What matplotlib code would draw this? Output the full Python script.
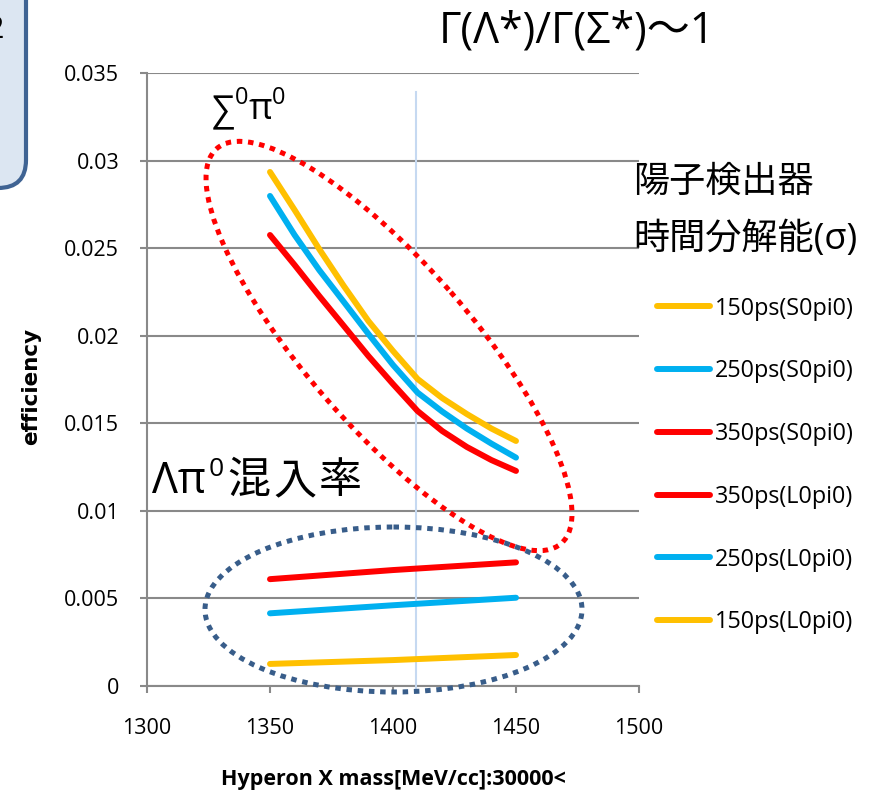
import numpy as np
import matplotlib
matplotlib.use('Agg')
import matplotlib.pyplot as plt
from matplotlib.patches import Ellipse, FancyBboxPatch
from matplotlib.transforms import Affine2D

plt.rcParams['font.family'] = ['Open Sans', 'Noto Sans CJK JP', 'DejaVu Sans']

W, H = 877, 793

# hyperon mass [MeV/cc]
mass = [1350, 1360, 1370, 1380, 1390, 1400, 1410, 1420, 1430, 1440, 1450]
s0_150 = [0.02935, 0.02718, 0.02495, 0.02284, 0.02084, 0.01913, 0.01753, 0.01644, 0.01553, 0.0147, 0.01399]
s0_250 = [0.02798, 0.02575, 0.02375, 0.02193, 0.02010, 0.01833, 0.01675, 0.01567, 0.0147, 0.01384, 0.01304]
s0_350 = [0.02575, 0.02404, 0.02227, 0.02056, 0.01884, 0.01724, 0.0157, 0.01456, 0.01365, 0.0129, 0.01228]

mass_l = [1350, 1400, 1450]
l0_350 = [0.0061, 0.00662, 0.00706]
l0_250 = [0.00415, 0.00461, 0.00504]
l0_150 = [0.00126, 0.00148, 0.00177]

yellow = '#FFC000'
blue = '#00B0F0'
red = '#FF0000'

fig = plt.figure(figsize=(W/100, H/100), dpi=100)
ax = fig.add_axes([147/W, 1-686/H, 492/W, 613/H])

# pixel coordinates of the image (y downwards)
pix = Affine2D().scale(1/W, -1/H).translate(0, 1) + fig.transFigure

lw = 4.3
ax.plot(mass, s0_150, color=yellow, lw=lw, solid_capstyle='round', label='150ps(S0pi0)', zorder=5)
ax.plot(mass, s0_250, color=blue, lw=lw, solid_capstyle='round', label='250ps(S0pi0)', zorder=5)
ax.plot(mass, s0_350, color=red, lw=lw, solid_capstyle='round', label='350ps(S0pi0)', zorder=5)
ax.plot(mass_l, l0_350, color=red, lw=lw, solid_capstyle='round', label='350ps(L0pi0)', zorder=5)
ax.plot(mass_l, l0_250, color=blue, lw=lw, solid_capstyle='round', label='250ps(L0pi0)', zorder=5)
ax.plot(mass_l, l0_150, color=yellow, lw=lw, solid_capstyle='round', label='150ps(L0pi0)', zorder=5)

ax.set_xlim(1300, 1500)
ax.set_ylim(0, 0.035)
ax.set_xticks([1300, 1350, 1400, 1450, 1500])
ax.set_yticks(np.arange(0, 0.0351, 0.005))
ax.set_yticklabels(['0', '0.005', '0.01', '0.015', '0.02', '0.025', '0.03', '0.035'])
ax.grid(axis='y', color='#898989', lw=1.5)
ax.set_axisbelow(True)
for s in ['top', 'right']:
    ax.spines[s].set_visible(False)
for s in ['left', 'bottom']:
    ax.spines[s].set_color('#898989')
    ax.spines[s].set_linewidth(1.5)
ax.tick_params(axis='both', colors='#898989', labelcolor='black', width=1.5, length=5,
               labelsize=15.5)
ax.tick_params(axis='y', pad=15)
ax.tick_params(axis='x', pad=18)

ax.set_xlabel('Hyperon X mass[MeV/cc]:30000<', fontsize=15.5, fontweight='bold', labelpad=22)
fig.text(31/W, 1-386/H, 'efficiency', rotation=90, fontsize=15.5, fontweight='bold',
         family='DejaVu Sans', ha='center', va='center')

# vertical marker line
ax.axvline(1409.5, ymin=-0.01, ymax=0.969, color='#C6D9F1', lw=1.5, clip_on=False, zorder=3)

# dotted ellipses
e1 = Ellipse((389, 346), 524, 164, angle=48.9, transform=pix, fill=False,
             edgecolor=red, lw=3.6, linestyle=(0, (1.1, 1.15)), clip_on=False, zorder=4)
e2 = Ellipse((393.5, 609.5), 377, 165, angle=0, transform=pix, fill=False,
             edgecolor='#385D8A', lw=3.6, linestyle=(0, (1.1, 1.15)), clip_on=False, zorder=4)
ax.add_patch(e1)
ax.add_patch(e2)

# legend
ax.legend(loc='upper left', bbox_to_anchor=(645/W, 1-285/H), bbox_transform=fig.transFigure,
          frameon=False, fontsize=16.8, handlelength=2.3, handletextpad=0.2,
          labelspacing=1.66, borderpad=0)

# annotations
fig.text(577/W, 1-31/H, 'Γ(Λ*)/Γ(Σ*)〜1', fontsize=31, ha='center', va='center')
fig.text(633/W, 1-183/H, '陽子検出器', fontsize=26, ha='left', va='center')
fig.text(633/W, 1-240/H, '時間分解能(σ)', fontsize=26, ha='left', va='center')


def seq_text(x, y, pieces, gap=0):
    # write text pieces one after another, y is the baseline in image pixels
    r = fig.canvas.get_renderer()
    for s, size, rise in pieces:
        t = fig.text(x/W, 1-(y-rise)/H, s, fontsize=size, ha='left', va='baseline')
        x += t.get_window_extent(r).width + gap


seq_text(212, 119, [('∑', 26, -2), ('0', 17, 15), ('π', 26, 0), ('0', 17, 15)])
seq_text(152, 493, [('Λπ', 31, 0), ('0', 19, 17), ('混', 31, 0), ('入', 31, 0), ('率', 31, 0)],
         gap=3)

# partial box at top-left
box = FancyBboxPatch((-60, -60), 86, 248, boxstyle='round,pad=0,rounding_size=28',
                     transform=pix, facecolor='#DCE6F2', edgecolor='#3F6393', lw=3,
                     clip_on=False)
fig.patches.append(box)
fig.text(4/W, 1-30/H, '2', fontsize=22, ha='right', va='center')

fig.savefig('out.png', dpi=100)
